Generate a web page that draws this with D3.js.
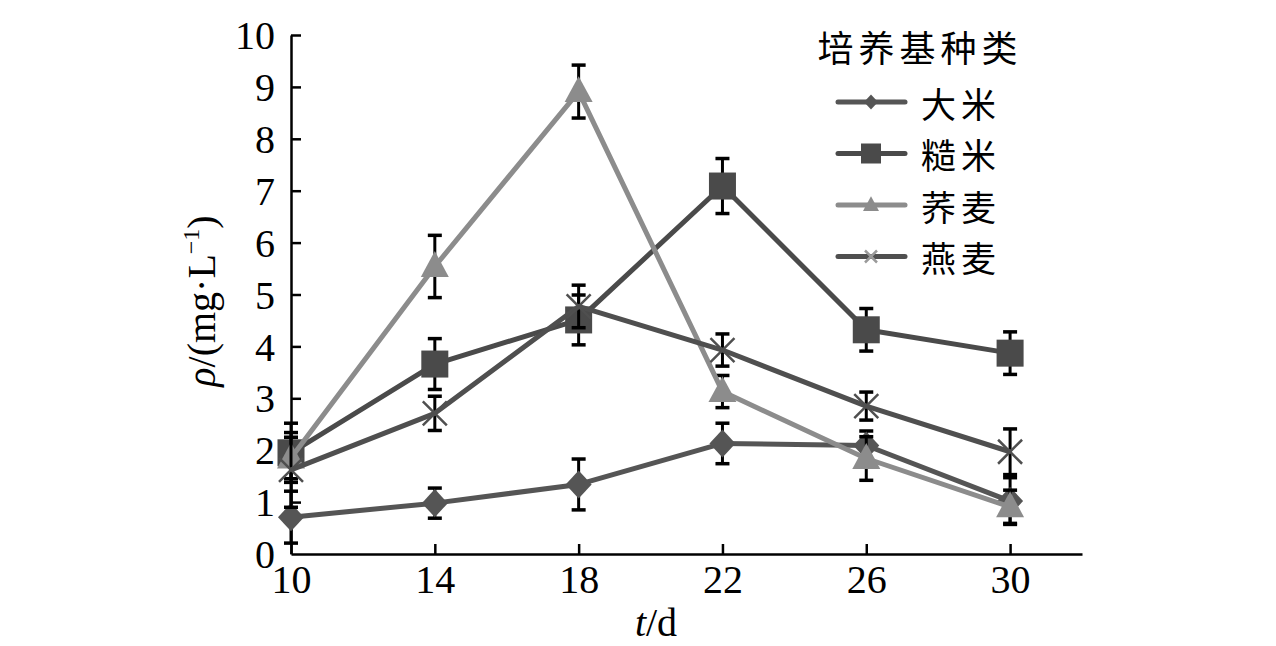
<!DOCTYPE html>
<html>
<head>
<meta charset="utf-8">
<script src="https://cdn.jsdelivr.net/npm/d3@7"></script>
<style>
  html, body { margin: 0; padding: 0; background: #fff; }
  svg { display: block; }
</style>
</head>
<body>
<div id="chart"></div>
<script>
// days of culture
const days = [10, 14, 18, 22, 26, 30];
const xTicks = [10, 14, 18, 22, 26, 30];
const yTicks = [0, 1, 2, 3, 4, 5, 6, 7, 8, 9, 10];

const seriesNames = ['大米', '糙米', '荞麦', '燕麦'];
const riceVals      = [0.71, 0.98, 1.34, 2.13, 2.09, 1.02];
const riceErr       = [0.50, 0.29, 0.49, 0.39, 0.28, 0.45];
const brownRiceVals = [1.95, 3.66, 4.51, 7.09, 4.32, 3.87];
const brownRiceErr  = [0.57, 0.49, 0.48, 0.53, 0.41, 0.41];
const buckwheatVals = [1.85, 5.54, 8.91, 3.13, 1.84, 0.91];
const buckwheatErr  = [0.40, 0.60, 0.51, 0.31, 0.42, 0.32];
const oatVals       = [1.62, 2.71, 4.77, 3.93, 2.85, 1.97];
const oatErr        = [0.72, 0.33, 0.41, 0.31, 0.27, 0.44];

const W = 1276, H = 646;

const series = [
  { name: seriesNames[0], vals: riceVals, err: riceErr, color: '#555555', marker: 'diamond' },
  { name: seriesNames[1], vals: brownRiceVals, err: brownRiceErr, color: '#4a4a4a', marker: 'square' },
  { name: seriesNames[2], vals: buckwheatVals, err: buckwheatErr, color: '#8c8c8c', marker: 'triangle' },
  { name: seriesNames[3], vals: oatVals, err: oatErr, color: '#4f4f4f', marker: 'cross' }
];

const x = d3.scaleLinear().domain([10, 32]).range([291, 1082]);
const y = d3.scaleLinear().domain([0, 10]).range([554, 35]);

const svg = d3.select('#chart').append('svg')
  .attr('width', W)
  .attr('height', H);

const numFont = '"Liberation Serif", "DejaVu Serif", serif';
const cjkFont = '"Noto Sans CJK SC", sans-serif';

// axes
const xAxis = d3.axisBottom(x).tickValues(xTicks).tickSizeInner(-10).tickSizeOuter(0).tickPadding(14);
const yAxis = d3.axisLeft(y).tickValues(yTicks).tickSizeInner(-10).tickSizeOuter(0).tickPadding(16);

const gx = svg.append('g')
  .attr('transform', `translate(0, ${y(0)})`)
  .call(xAxis);
const gy = svg.append('g')
  .attr('transform', `translate(${x(10)}, 0)`)
  .call(yAxis);

[gx, gy].forEach(g => {
  g.select('.domain').attr('stroke', '#000').attr('stroke-width', 2.5);
  g.selectAll('.tick line').attr('stroke', '#000').attr('stroke-width', 2.5);
  g.selectAll('.tick text')
    .attr('fill', '#000')
    .attr('font-family', numFont)
    .attr('font-size', 40);
});
gx.selectAll('.tick text').attr('dy', '0.62em');
gy.selectAll('.tick text').attr('dy', '0.34em');
// the y tick at 0 sits on the x axis
gy.selectAll('.tick').filter(d => d === 0).select('line').remove();

// axis titles
svg.append('text')
  .attr('x', 656)
  .attr('y', 636)
  .attr('text-anchor', 'middle')
  .attr('font-family', numFont)
  .attr('font-size', 40)
  .html('<tspan font-style="italic">t</tspan>/d');

svg.append('text')
  .attr('transform', `translate(215, ${301})rotate(-90)`)
  .attr('text-anchor', 'middle')
  .attr('font-family', numFont)
  .attr('font-size', 40)
  .html('<tspan font-style="italic">ρ</tspan>/(mg·L<tspan font-size="24" dy="-16">−1</tspan><tspan dy="16">)</tspan>');

const drawMarker = (g, type, cx, cy, size, color) => {
  const h = size / 2;
  if (type === 'cross') {
    g.append('path')
      .attr('d', `M${cx - h},${cy - h}L${cx + h},${cy + h}M${cx - h},${cy + h}L${cx + h},${cy - h}`)
      .attr('stroke', color)
      .attr('stroke-width', 2.5)
      .attr('fill', 'none');
  } else if (type === 'diamond') {
    g.append('path')
      .attr('d', `M${cx},${cy - h * 1.08}L${cx + h},${cy}L${cx},${cy + h * 1.08}L${cx - h},${cy}Z`)
      .attr('fill', color);
  } else if (type === 'square') {
    g.append('rect')
      .attr('x', cx - h).attr('y', cy - h)
      .attr('width', size).attr('height', size)
      .attr('fill', color);
  } else {
    g.append('path')
      .attr('d', `M${cx},${cy - h * 1.1}L${cx + h},${cy + h * 0.75}L${cx - h},${cy + h * 0.75}Z`)
      .attr('fill', color);
  }
};

const line = d3.line()
  .x(d => x(d[0]))
  .y(d => y(d[1]));

const markerSize = { diamond: 26, square: 27, triangle: 28, cross: 24 };

series.forEach(s => {
  const g = svg.append('g');
  const pts = days.map((d, i) => [d, s.vals[i], s.err[i]]);

  // error bars
  pts.forEach(p => {
    const cx = x(p[0]);
    g.append('line')
      .attr('x1', cx).attr('x2', cx)
      .attr('y1', y(p[1] - p[2])).attr('y2', y(p[1] + p[2]))
      .attr('stroke', '#000').attr('stroke-width', 3);
    [p[1] - p[2], p[1] + p[2]].forEach(v => {
      g.append('line')
        .attr('x1', cx - 7).attr('x2', cx + 7)
        .attr('y1', y(v)).attr('y2', y(v))
        .attr('stroke', '#000').attr('stroke-width', 3.5);
    });
  });

  g.append('path')
    .datum(pts)
    .attr('d', line)
    .attr('fill', 'none')
    .attr('stroke', s.color)
    .attr('stroke-width', 5)
    .attr('stroke-linejoin', 'round');

  pts.forEach(p => drawMarker(g, s.marker, x(p[0]), y(p[1]), markerSize[s.marker], s.color));
});

// legend
const legend = svg.append('g');
legend.append('text')
  .attr('x', 920)
  .attr('y', 46)
  .attr('text-anchor', 'middle')
  .attr('dominant-baseline', 'central')
  .attr('font-family', cjkFont)
  .attr('font-size', 36)
  .attr('letter-spacing', 5)
  .text('培养基种类');

const legendSize = { diamond: 14, square: 20, triangle: 16, cross: 12 };
series.forEach((s, i) => {
  const ly = 102 + i * 51.5;
  legend.append('line')
    .attr('x1', 838).attr('x2', 905)
    .attr('y1', ly).attr('y2', ly)
    .attr('stroke', s.color)
    .attr('stroke-width', 5)
    .attr('stroke-linecap', 'round');
  drawMarker(legend, s.marker, 871, ly, legendSize[s.marker],
    s.marker === 'cross' ? '#9a9a9a' : s.color);
  legend.append('text')
    .attr('x', 921)
    .attr('y', ly)
    .attr('dominant-baseline', 'central')
    .attr('font-family', cjkFont)
    .attr('font-size', 35)
    .attr('letter-spacing', 5)
    .text(s.name);
});
</script>
</body>
</html>
